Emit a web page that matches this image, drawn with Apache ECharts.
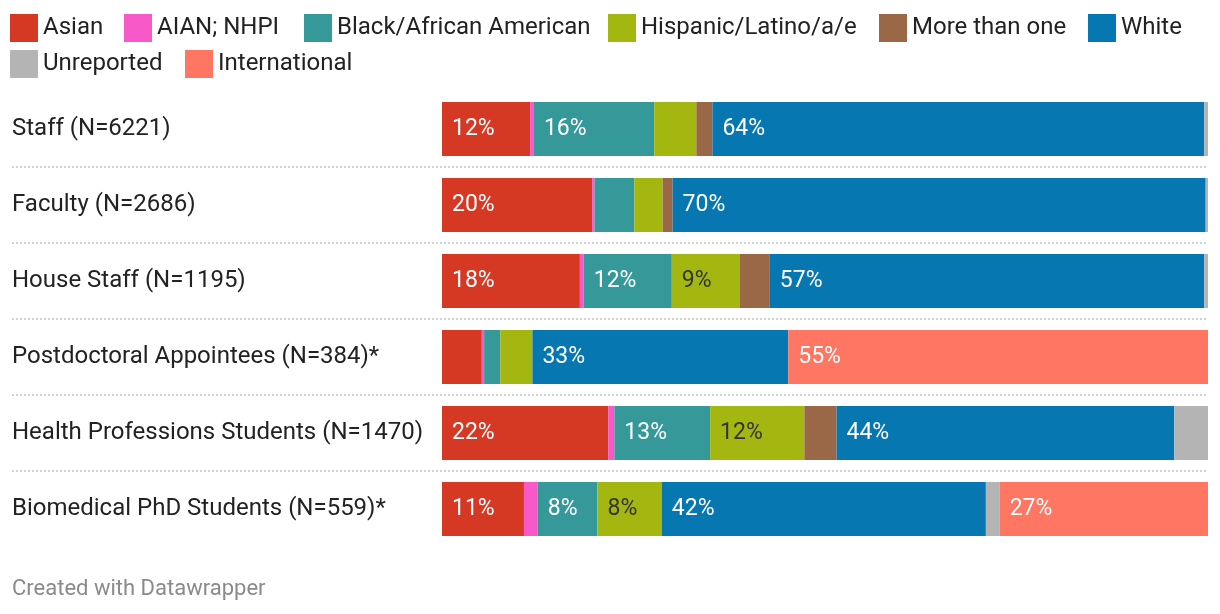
<!DOCTYPE html>
<html><head><meta charset="utf-8">
<script src="https://cdn.jsdelivr.net/npm/echarts@6/dist/echarts.min.js"></script>
<style>html,body{margin:0;padding:0;background:#fff}#c{width:1220px;height:614px}</style>
</head><body><div id="c"></div>
<script>
const categories = ["Staff (N=6221)", "Faculty (N=2686)", "House Staff (N=1195)", "Postdoctoral Appointees (N=384)*", "Health Professions Students (N=1470)", "Biomedical PhD Students (N=559)*"];
const seriesNames = ["Asian", "AIAN; NHPI", "Black/African American", "Hispanic/Latino/a/e", "More than one", "White", "Unreported", "International"];
const asian        = [11.5, 19.6, 18.0, 5.2, 21.7, 10.7];
const aianNhpi     = [0.5, 0.3, 0.5, 0.3, 0.8, 1.8];
const black        = [15.7, 5.2, 11.5, 2.1, 12.5, 7.8];
const hispanic     = [5.5, 3.7, 8.9, 4.2, 12.3, 8.4];
const moreThanOne  = [2.1, 1.3, 3.9, 0, 4.2, 0];
const white        = [64.2, 69.6, 56.7, 33.4, 44.1, 42.3];
const unreported   = [0.5, 0.3, 0.5, 0, 4.4, 1.8];
const international= [0, 0, 0, 54.8, 0, 27.2];
const values = [asian, aianNhpi, black, hispanic, moreThanOne, white, unreported, international];
const colors = ["#d53924", "#f759c8", "#349998", "#a3b710", "#9b6847", "#0677b0", "#b4b4b4", "#ff7662"];
const labelColors = ["#fff", "#fff", "#fff", "#333", "#fff", "#fff", "#fff", "#fff"];

const legendPos = [[10,14],[124,14],[304,14],[608,14],[879,14],[1088,14],[10,50],[185,50]];
const FONT = "Roboto, 'Noto Sans', sans-serif";

const chart = echarts.init(document.getElementById('c'), null, {renderer: 'canvas'});
const series = seriesNames.map((n, i) => ({
  name: n, type: 'bar', stack: 'total', barWidth: 54,
  xAxisIndex: 0, yAxisIndex: 0,
  itemStyle: {color: colors[i]},
  data: values[i],
  label: {
    show: true, position: 'insideLeft', distance: 10,
    color: labelColors[i], fontSize: 23, fontFamily: FONT,
    padding: [3, 0, 0, 0],
    formatter: p => p.value >= 7.5 ? Math.round(p.value) + '%' : ''
  },
  emphasis: {disabled: true}
}));
series.push({type: 'scatter', xAxisIndex: 1, yAxisIndex: 1, data: [], silent: true});

chart.setOption({
  animation: false,
  backgroundColor: '#fff',
  title: {text: 'Created with Datawrapper', left: 12, top: 578, padding: 0,
    textStyle: {color: '#8a8a8a', fontSize: 22, fontWeight: 'normal', fontFamily: FONT}},
  legend: seriesNames.map((n, i) => ({
    data: [n], left: legendPos[i][0], top: legendPos[i][1],
    itemWidth: 28, itemHeight: 28, icon: 'rect', padding: 0,
    selectedMode: false,
    textStyle: {fontSize: 24, color: '#222', fontFamily: FONT}
  })),
  grid: [
    {left: 442, right: 12, top: 91, height: 456},
    {left: 12, right: 12, top: 167, height: 304}
  ],
  xAxis: [
    {type: 'value', min: 0, max: 100, show: false, gridIndex: 0},
    {type: 'value', min: 0, max: 1, show: false, gridIndex: 1}
  ],
  yAxis: [
    {type: 'category', data: categories, inverse: true, gridIndex: 0,
     axisLine: {show: false}, axisTick: {show: false}, splitLine: {show: false},
     axisLabel: {align: 'left', margin: 430, fontSize: 24, color: '#222', fontFamily: FONT,
       padding: [5, 0, 0, 0]}},
    {type: 'value', min: 0, max: 4, interval: 1, gridIndex: 1,
     axisLine: {show: false}, axisTick: {show: false}, axisLabel: {show: false},
     splitLine: {show: true, lineStyle: {color: '#d2d2d2', width: 2, type: [2, 2]}}}
  ],
  series: series
});
</script></body></html>
